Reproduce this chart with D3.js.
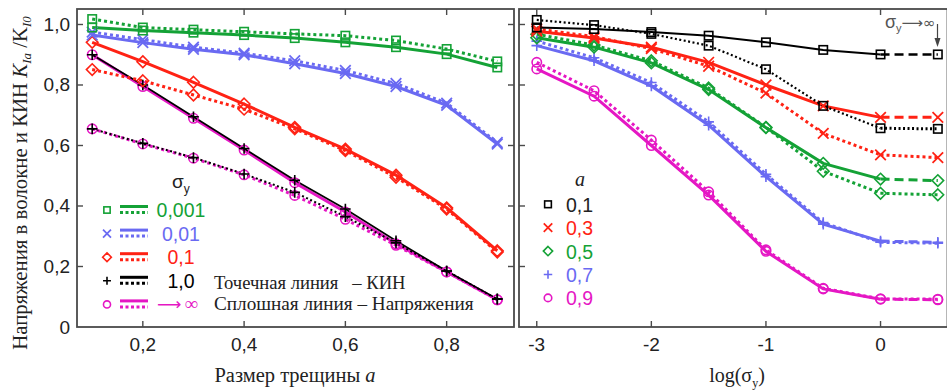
<!DOCTYPE html>
<html><head><meta charset="utf-8">
<script src="https://cdn.jsdelivr.net/npm/d3@7"></script>
<style>body{margin:0;background:#fff}</style>
</head><body>
<svg id="c" width="947" height="391"></svg>
<script>
// ---------- data ----------
const crackSizes = [0.1,0.2,0.3,0.4,0.5,0.6,0.7,0.8,0.9];
const sigmaLabels = ["0,001","0,01","0,1","1,0","∞"];
// left panel: stress (solid) and SIF/KIN (dotted) per sigma_y
const stress_s0001 = [0.99,0.98,0.973,0.965,0.955,0.941,0.925,0.902,0.858];
const kin_s0001    = [1.018,0.99,0.983,0.976,0.969,0.963,0.947,0.919,0.878];
const stress_s001  = [0.965,0.94,0.918,0.9,0.87,0.838,0.795,0.733,0.605];
const kin_s001     = [0.975,0.95,0.925,0.905,0.88,0.848,0.805,0.74,0.61];
const stress_s01   = [0.941,0.877,0.809,0.737,0.66,0.588,0.502,0.394,0.252];
const kin_s01      = [0.851,0.814,0.767,0.72,0.655,0.583,0.495,0.39,0.248];
const stress_s1    = [0.9,0.8,0.695,0.59,0.485,0.39,0.285,0.185,0.093];
const kin_s1       = [0.655,0.607,0.56,0.506,0.445,0.365,0.278,0.185,0.092];
const stress_sInf  = [0.9,0.795,0.69,0.585,0.477,0.38,0.275,0.182,0.09];
const kin_sInf     = [0.655,0.605,0.558,0.503,0.435,0.356,0.27,0.182,0.09];

// right panel: x = log(sigma_y); last point (plotted at 0.5) is sigma_y -> infinity
const logSigma = [-3,-2.5,-2,-1.5,-1,-0.5,0];
const infPosition = 0.5;
const aLabels = ["0,1","0,3","0,5","0,7","0,9"];
const stress_a01 = [0.99,0.985,0.975,0.963,0.941,0.916,0.901];
const stress_a01_inf = 0.901;
const kin_a01 = [1.015,0.998,0.969,0.93,0.852,0.731,0.657];
const kin_a01_inf = 0.655;
const stress_a03 = [0.978,0.955,0.925,0.875,0.80,0.731,0.693];
const stress_a03_inf = 0.693;
const kin_a03 = [0.985,0.96,0.92,0.862,0.773,0.64,0.569];
const kin_a03_inf = 0.56;
const stress_a05 = [0.956,0.925,0.873,0.785,0.659,0.541,0.489];
const stress_a05_inf = 0.484;
const kin_a05 = [0.968,0.932,0.88,0.79,0.66,0.515,0.442];
const kin_a05_inf = 0.437;
const stress_a07 = [0.93,0.88,0.797,0.667,0.497,0.34,0.284];
const stress_a07_inf = 0.28;
const kin_a07 = [0.945,0.89,0.808,0.678,0.505,0.345,0.28];
const kin_a07_inf = 0.277;
const stress_a09 = [0.853,0.763,0.6,0.436,0.25,0.126,0.092];
const stress_a09_inf = 0.09;
const kin_a09 = [0.875,0.781,0.618,0.447,0.255,0.128,0.093];
const kin_a09_inf = 0.092;

const yTicks = [0,0.2,0.4,0.6,0.8,1.0];
const yTickLabels = ["0","0,2","0,4","0,6","0,8","1,0"];
const xTicksLeft = [0.2,0.4,0.6,0.8];
const xTickLabelsLeft = ["0,2","0,4","0,6","0,8"];
const xTicksRight = [-3,-2,-1,0];
const xTickLabelsRight = ["-3","-2","-1","0"];

// ---------- styles ----------
const C = {green:"#14a236", blue:"#6a6af2", red:"#ff2214", black:"#000000", magenta:"#e517c4"};
const frameColor = "#4a4a4a";
const sans = "'Liberation Sans', Arial, sans-serif";
const serif = "'Liberation Serif', 'Times New Roman', serif";
const tickFs = 19;

const svg = d3.select("#c");
const T = 9, B = 327;
const y = d3.scaleLinear().domain([0,1.0512]).range([B,T]);
const xL = d3.scaleLinear().domain([0.07,0.933]).range([77,514]);
const xR = d3.scaleLinear().domain([-3.155,0.58]).range([519,947]);

// ---------- markers ----------
function marker(g, type, cx, cy, color, s){
  s = s || 1;
  const sw = 1.6;
  if(type==="square"){
    g.append("rect").attr("x",cx-4.2*s).attr("y",cy-4.2*s).attr("width",8.4*s).attr("height",8.4*s)
      .attr("fill","none").attr("stroke",color).attr("stroke-width",sw);
  } else if(type==="x"){
    const r=5.3*s;
    g.append("path").attr("d",`M${cx-r},${cy-r}L${cx+r},${cy+r}M${cx-r},${cy+r}L${cx+r},${cy-r}`)
      .attr("stroke",color).attr("stroke-width",sw*1.1).attr("fill","none");
  } else if(type==="diamond"){
    const r=5.8*s;
    g.append("path").attr("d",`M${cx},${cy-r}L${cx+r},${cy}L${cx},${cy+r}L${cx-r},${cy}Z`)
      .attr("stroke",color).attr("stroke-width",sw).attr("fill","none");
  } else if(type==="plus"){
    const r=5.3*s;
    g.append("path").attr("d",`M${cx-r},${cy}L${cx+r},${cy}M${cx},${cy-r}L${cx},${cy+r}`)
      .attr("stroke",color).attr("stroke-width",sw).attr("fill","none");
  } else if(type==="circle"){
    g.append("circle").attr("cx",cx).attr("cy",cy).attr("r",4.7*s)
      .attr("fill","none").attr("stroke",color).attr("stroke-width",sw);
  }
}

function lineStyle(path, color, kind, black){
  path.attr("fill","none").attr("stroke",color);
  if(kind==="solid"){ path.attr("stroke-width", black?1.6:3); }
  else if(kind==="dotted"){ path.attr("stroke-width", black?2:3).attr("stroke-dasharray", black?"2,2.5":"3,3"); }
  else if(kind==="dashed"){ path.attr("stroke-width", black?2.5:3).attr("stroke-dasharray","9,5"); }
  return path;
}

// ---------- frames ----------
function frame(x0,x1){
  svg.append("rect").attr("x",x0).attr("y",T).attr("width",x1-x0).attr("height",B-T)
    .attr("fill","none").attr("stroke",frameColor).attr("stroke-width",1.8);
}
frame(77,514);
frame(519,947.5);

const tl = 6;
const ticks = svg.append("g").attr("stroke",frameColor).attr("stroke-width",1.4);
yTicks.slice(1).forEach(v=>{
  ticks.append("line").attr("x1",77).attr("x2",77+tl).attr("y1",y(v)).attr("y2",y(v));
  ticks.append("line").attr("x1",514).attr("x2",514-tl).attr("y1",y(v)).attr("y2",y(v));
  ticks.append("line").attr("x1",519).attr("x2",519+tl).attr("y1",y(v)).attr("y2",y(v));
});
xTicksLeft.forEach(v=>{
  ticks.append("line").attr("x1",xL(v)).attr("x2",xL(v)).attr("y1",B).attr("y2",B-tl);
  ticks.append("line").attr("x1",xL(v)).attr("x2",xL(v)).attr("y1",T).attr("y2",T+tl);
});
xTicksRight.forEach(v=>{
  ticks.append("line").attr("x1",xR(v)).attr("x2",xR(v)).attr("y1",B).attr("y2",B-tl);
  ticks.append("line").attr("x1",xR(v)).attr("x2",xR(v)).attr("y1",T).attr("y2",T+tl);
});

// tick labels
yTicks.forEach((v,i)=>{
  svg.append("text").attr("x",70).attr("y",y(v)+6.5).attr("text-anchor","end")
    .attr("font-family",sans).attr("font-size",tickFs).attr("fill","#222").text(yTickLabels[i]);
});
xTicksLeft.forEach((v,i)=>{
  svg.append("text").attr("x",xL(v)).attr("y",351).attr("text-anchor","middle")
    .attr("font-family",sans).attr("font-size",tickFs).attr("fill","#222").text(xTickLabelsLeft[i]);
});
xTicksRight.forEach((v,i)=>{
  svg.append("text").attr("x",xR(v)).attr("y",351).attr("text-anchor","middle")
    .attr("font-family",sans).attr("font-size",tickFs).attr("fill","#222").text(xTickLabelsRight[i]);
});

// axis titles
svg.append("text").attr("x",295).attr("y",382).attr("text-anchor","middle")
  .attr("font-family",serif).attr("font-size",20.5).attr("fill","#222")
  .html('Размер трещины <tspan font-style="italic">a</tspan>');
const lx = svg.append("text").attr("x",737).attr("y",382).attr("text-anchor","middle")
  .attr("font-family",serif).attr("font-size",20).attr("fill","#222");
lx.append("tspan").text("log(σ");
lx.append("tspan").attr("font-size",12).attr("dy",5).text("y");
lx.append("tspan").attr("dy",-5).text(")");

const yt = svg.append("text").attr("transform","translate(27,183) rotate(-90)").attr("text-anchor","middle")
  .attr("font-family",serif).attr("font-size",20.8).attr("fill","#222");
yt.append("tspan").text("Напряжения в волокне и КИН  ");
yt.append("tspan").attr("font-style","italic").text("K");
yt.append("tspan").attr("font-style","italic").attr("font-size",13).attr("dy",4).text("Ia");
yt.append("tspan").attr("dy",-4).text(" /");
yt.append("tspan").text("K");
yt.append("tspan").attr("font-style","italic").attr("font-size",13).attr("dy",4).text("I0");

// ---------- left panel ----------
const left = svg.append("g");
const lineL = d3.line().x((d,i)=>xL(crackSizes[i])).y(d=>y(d));
const leftSeries = [
  {s:stress_sInf, k:kin_sInf, c:C.magenta, m:"circle"},
  {s:stress_s1, k:kin_s1, c:C.black, m:"plus", black:true},
  {s:stress_s01, k:kin_s01, c:C.red, m:"diamond"},
  {s:stress_s001, k:kin_s001, c:C.blue, m:"x"},
  {s:stress_s0001, k:kin_s0001, c:C.green, m:"square"}
];
leftSeries.forEach(ser=>{
  lineStyle(left.append("path").attr("d",lineL(ser.s)), ser.c, "solid", ser.black);
  lineStyle(left.append("path").attr("d",lineL(ser.k)), ser.c, "dotted", ser.black);
});
leftSeries.forEach(ser=>{
  ser.s.forEach((v,i)=>marker(left,ser.m,xL(crackSizes[i]),y(v),ser.c));
  ser.k.forEach((v,i)=>marker(left,ser.m,xL(crackSizes[i]),y(v),ser.c));
});

// left legend
const legL = svg.append("g");
const t1 = legL.append("text").attr("x",172).attr("y",188).attr("font-family",sans).attr("font-size",19).attr("fill","#222");
t1.append("tspan").text("σ");
t1.append("tspan").attr("font-size",12).attr("dy",5).text("y");
const legItems = [
  {c:C.green,m:"square",label:sigmaLabels[0]},
  {c:C.blue,m:"x",label:sigmaLabels[1]},
  {c:C.red,m:"diamond",label:sigmaLabels[2]},
  {c:C.black,m:"plus",label:sigmaLabels[3]},
  {c:C.magenta,m:"circle",label:sigmaLabels[4]}
];
legItems.forEach((d,i)=>{
  const cy = 210 + i*23.6;
  marker(legL,d.m,107,cy,d.c,0.75);
  lineStyle(legL.append("line").attr("x1",120).attr("x2",148).attr("y1",cy-3.5).attr("y2",cy-3.5), d.c, "solid").attr("stroke-width",3);
  lineStyle(legL.append("line").attr("x1",120).attr("x2",148).attr("y1",cy+2.5).attr("y2",cy+2.5), d.c, "dotted").attr("stroke-width",3).attr("stroke-dasharray","3,2.5");
  if(i<4){
    legL.append("text").attr("x",181).attr("y",cy+7).attr("text-anchor","middle")
      .attr("font-family",sans).attr("font-size",19.5).attr("fill",d.c).text(d.label);
  } else {
    const tt = legL.append("text").attr("x",157).attr("y",cy+6).attr("font-family",serif).attr("font-size",19).attr("fill",d.c);
    tt.append("tspan").attr("font-family","'DejaVu Sans'").attr("font-size",17).text("⟶");
    tt.append("tspan").attr("dx",3).text(d.label);
  }
});
svg.append("text").attr("x",214).attr("y",289).attr("font-family",serif).attr("font-size",18.6).attr("fill","#222")
  .attr("xml:space","preserve").text("Точечная линия   – КИН");
svg.append("text").attr("x",214).attr("y",310).attr("font-family",serif).attr("font-size",19.2).attr("fill","#222")
  .text("Сплошная линия – Напряжения");

// ---------- right panel ----------
const right = svg.append("g");
const lineR = d3.line().x((d,i)=>xR(logSigma[i])).y(d=>y(d));
const rightSeries = [
  {s:stress_a09,si:stress_a09_inf,k:kin_a09,ki:kin_a09_inf,c:C.magenta,m:"circle"},
  {s:stress_a07,si:stress_a07_inf,k:kin_a07,ki:kin_a07_inf,c:C.blue,m:"plus"},
  {s:stress_a05,si:stress_a05_inf,k:kin_a05,ki:kin_a05_inf,c:C.green,m:"diamond"},
  {s:stress_a03,si:stress_a03_inf,k:kin_a03,ki:kin_a03_inf,c:C.red,m:"x"},
  {s:stress_a01,si:stress_a01_inf,k:kin_a01,ki:kin_a01_inf,c:C.black,m:"square",black:true}
];
const last = logSigma.length-1;
rightSeries.forEach(ser=>{
  lineStyle(right.append("path").attr("d",lineR(ser.s)), ser.c, "solid", ser.black).attr("stroke-width", ser.black?2:3);
  lineStyle(right.append("path").attr("d",lineR(ser.k)), ser.c, "dotted", ser.black).attr("stroke-width", ser.black?2.2:3);
  lineStyle(right.append("line").attr("x1",xR(logSigma[last])).attr("y1",y(ser.s[last]))
    .attr("x2",xR(infPosition)).attr("y2",y(ser.si)), ser.c, "dashed", ser.black);
  lineStyle(right.append("line").attr("x1",xR(logSigma[last])).attr("y1",y(ser.k[last]))
    .attr("x2",xR(infPosition)).attr("y2",y(ser.ki)), ser.c, "dotted", ser.black).attr("stroke-width", 3);
});
rightSeries.forEach(ser=>{
  ser.s.forEach((v,i)=>marker(right,ser.m,xR(logSigma[i]),y(v),ser.c));
  ser.k.forEach((v,i)=>marker(right,ser.m,xR(logSigma[i]),y(v),ser.c));
  marker(right,ser.m,xR(infPosition),y(ser.si),ser.c);
  marker(right,ser.m,xR(infPosition),y(ser.ki),ser.c);
});

// right legend
const legR = svg.append("g");
legR.append("text").attr("x",575).attr("y",186).attr("font-family",serif).attr("font-style","italic")
  .attr("font-size",20).attr("fill","#222").text("a");
const legRItems = [
  {c:C.black,m:"square"},{c:C.red,m:"x"},{c:C.green,m:"diamond"},{c:C.blue,m:"plus"},{c:C.magenta,m:"circle"}
];
const legRText = ["#222",C.red,C.green,C.blue,C.magenta];
legRItems.forEach((d,i)=>{
  const cy = 204.3 + i*23.4;
  marker(legR,d.m,548,cy,d.c,0.8);
  legR.append("text").attr("x",566).attr("y",cy+7.5).attr("font-family",sans).attr("font-size",19.5)
    .attr("fill",legRText[i]).text(aLabels[i]);
});

// annotation sigma_y -> infinity
const an = svg.append("text").attr("x",885).attr("y",28).attr("font-family",sans).attr("font-size",18).attr("fill","#555");
an.append("tspan").text("σ");
an.append("tspan").attr("font-size",11).attr("dy",4).text("y");
an.append("tspan").attr("dy",-4).attr("font-family","'DejaVu Sans'").attr("font-size",15).text("⟶∞");
svg.append("line").attr("x1",937.5).attr("x2",937.5).attr("y1",24).attr("y2",44).attr("stroke","#444").attr("stroke-width",1.2);
svg.append("path").attr("d","M934.5,38L937.5,47L940.5,38Z").attr("fill","#444");
</script>
</body></html>
